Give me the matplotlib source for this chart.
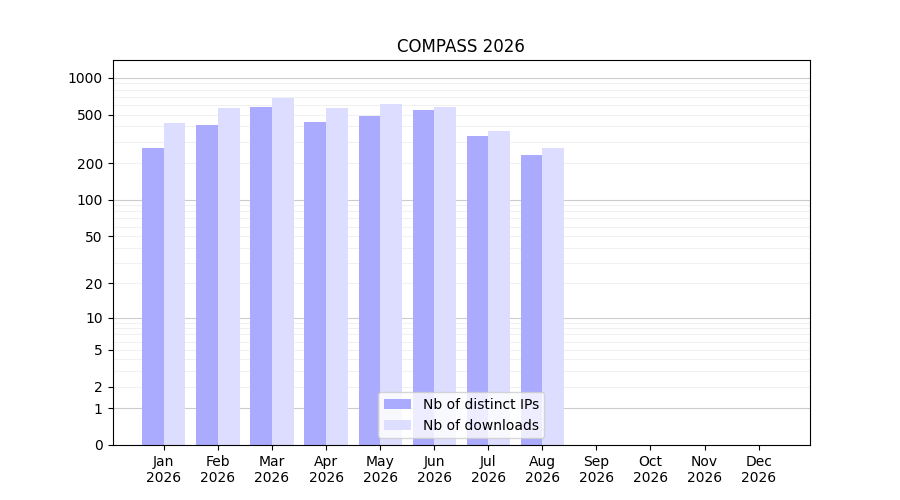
import numpy as np
import matplotlib
matplotlib.use("Agg")
import matplotlib.pyplot as plt
from matplotlib.ticker import FixedLocator, FixedFormatter

months = ["Jan\n2026","Feb\n2026","Mar\n2026","Apr\n2026","May\n2026","Jun\n2026",
          "Jul\n2026","Aug\n2026","Sep\n2026","Oct\n2026","Nov\n2026","Dec\n2026"]
ips = [267, 413, 580, 437, 489, 547, 335, 234, 0, 0, 0, 0]
downloads = [429, 568, 687, 568, 613, 580, 368, 267, 0, 0, 0, 0]

fig, ax = plt.subplots(figsize=(9, 5), dpi=100)
fig.subplots_adjust(left=0.125, right=0.9, top=0.88, bottom=0.11)
ax.set_yscale('function', functions=(lambda v: np.log10(1 + np.maximum(v, 0)),
                                      lambda v: 10**v - 1))
x = np.arange(len(months))
w = 0.4
ax.bar(x - w/2, ips, w, color='#aaaaff', label='Nb of distinct IPs', zorder=2)
ax.bar(x + w/2, downloads, w, color='#ddddff', label='Nb of downloads', zorder=2)
ax.set_ylim(0, 1400)
ax.set_xlim(-0.95, 11.95)
major = [0, 1, 2, 5, 10, 20, 50, 100, 200, 500, 1000]
ax.yaxis.set_major_locator(FixedLocator(major))
ax.yaxis.set_major_formatter(FixedFormatter([str(m) for m in major]))
minor = [3,4,6,7,8,9,30,40,60,70,80,90,300,400,600,700,800,900]
ax.yaxis.set_minor_locator(FixedLocator(minor))
for v in [1, 10, 100, 1000]:
    ax.axhline(v, color='#cccccc', lw=0.8, zorder=1)
for v in [2,3,4,5,6,7,8,9,20,30,40,50,60,70,80,90,200,300,400,500,600,700,800,900]:
    ax.axhline(v, color='#eeeeee', lw=0.6, zorder=1)
ax.tick_params(axis='y', which='minor', length=0)
ax.set_xticks(x)
ax.set_xticklabels(months)
ax.set_title("COMPASS 2026")
ax.legend(loc='lower center')
fig.savefig("out.png")
